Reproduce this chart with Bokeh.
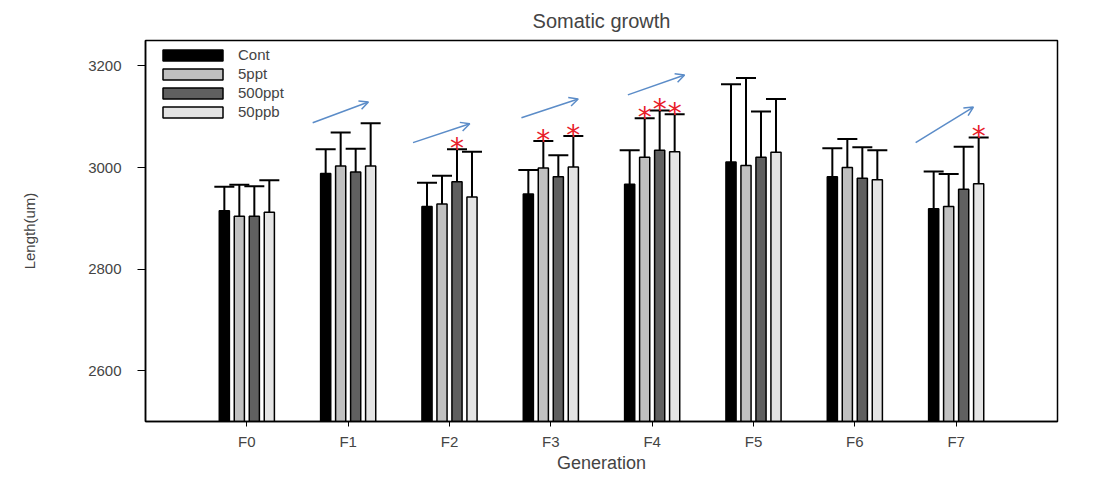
from bokeh.plotting import figure
from bokeh.models import (ColumnDataSource, Whisker, TeeHead, Legend, LegendItem,
                          FixedTicker, Arrow, OpenHead)
from bokeh.core.properties import value
from bokeh.embed import file_html
from bokeh.resources import INLINE

# ---- data ----
generations = ["F0", "F1", "F2", "F3", "F4", "F5", "F6", "F7"]
series = ["Cont", "5ppt", "500ppt", "50ppb"]
cont = [2915, 2988, 2923, 2948, 2967, 3011, 2982, 2919]
cont_err = [47, 48, 47, 47, 67, 153, 56, 73]
ppt5 = [2904, 3003, 2928, 2999, 3020, 3004, 3000, 2923]
ppt5_err = [62, 66, 56, 53, 77, 172, 56, 64]
ppt500 = [2904, 2991, 2972, 2982, 3034, 3020, 2979, 2957]
ppt500_err = [59, 46, 64, 42, 78, 90, 61, 84]
ppb50 = [2912, 3003, 2942, 3001, 3031, 3030, 2976, 2968]
ppb50_err = [63, 84, 89, 61, 74, 105, 58, 91]
# significance (generation indices) per series
sig = {"Cont": [], "5ppt": [3, 4], "500ppt": [2, 4], "50ppb": [3, 4, 7]}
# trend arrows (x0, y0, x1, y1) in data coordinates
arrows = [(0.65, 3088, 1.20, 3129), (1.64, 3049, 2.20, 3086),
          (2.71, 3098, 3.27, 3135), (3.76, 3143, 4.32, 3182),
          (6.60, 3049, 7.17, 3119)]

means = [cont, ppt5, ppt500, ppb50]
errs = [cont_err, ppt5_err, ppt500_err, ppb50_err]
colors = ["#000000", "#c0c0c0", "#606060", "#e4e4e4"]
offsets = [-0.222, -0.074, 0.074, 0.222]
FONT = "Liberation Sans"

p = figure(width=1111, height=478, x_range=(-1, 8), y_range=(2500, 3250),
           output_backend="svg", toolbar_location=None,
           min_border_left=145, min_border_right=54,
           min_border_top=40, min_border_bottom=57)

p.title.text = "Somatic growth"
p.title.align = "center"
p.title.vertical_align = "top"
p.title.standoff = 14
p.title.text_font_size = "20px"
p.title.text_font_style = "normal"
p.title.text_font = FONT

p.xgrid.visible = False
p.ygrid.visible = False
p.outline_line_color = "black"
p.outline_line_width = 1.5

xs_base = list(range(len(generations)))
items = []
for name, m, e, c, off in zip(series, means, errs, colors, offsets):
    xs = [x + off for x in xs_base]
    src = ColumnDataSource(dict(x=xs, top=m, upper=[a + b for a, b in zip(m, e)]))
    r = p.vbar(x="x", top="top", bottom=2500, width=0.1, source=src,
               fill_color=c, line_color="black", line_width=1.5)
    items.append(LegendItem(label=name, renderers=[r]))
    w = Whisker(base="x", lower="top", upper="upper", source=src,
                line_color="black", line_width=2,
                upper_head=TeeHead(size=20, line_color="black", line_width=2),
                lower_head=None)
    p.add_layout(w)
    idx = sig[name]
    if idx:
        ssrc = ColumnDataSource(dict(x=[xs[i] for i in idx],
                                     y=[m[i] + e[i] for i in idx],
                                     t=["*"] * len(idx)))
        p.text(x="x", y="y", text="t", source=ssrc, text_color="#e8202a",
               text_font=value("DejaVu Sans"), text_font_size="28px",
               text_align="center", text_baseline="middle", y_offset=-1)

for x0, y0, x1, y1 in arrows:
    p.add_layout(Arrow(x_start=x0, y_start=y0, x_end=x1, y_end=y1,
                       line_color="#5b8cc8", line_width=1.5,
                       end=OpenHead(size=9, line_color="#5b8cc8", line_width=1.5)))

legend = Legend(items=items, location=(10, 301), glyph_width=75, glyph_height=14,
                label_height=16, spacing=2, padding=0, margin=0,
                label_standoff=8, label_text_font_size="15px",
                label_text_font=FONT, border_line_color=None,
                background_fill_alpha=0)
p.add_layout(legend)

p.yaxis.ticker = FixedTicker(ticks=[2600, 2800, 3000, 3200])
p.yaxis.minor_tick_line_color = None
p.yaxis.major_tick_out = 8
p.yaxis.major_tick_in = 0
p.yaxis.axis_line_width = 1.5
p.yaxis.major_label_text_font_size = "15px"
p.yaxis.major_label_text_font = FONT
p.yaxis.major_label_standoff = 16
p.yaxis.axis_label = "Length(um)"
p.yaxis.axis_label_text_font = FONT
p.yaxis.axis_label_text_font_size = "15px"
p.yaxis.axis_label_text_font_style = "normal"
p.yaxis.axis_label_standoff = 47

p.xaxis.ticker = FixedTicker(ticks=xs_base)
p.xaxis.major_label_overrides = {i: g for i, g in enumerate(generations)}
p.xaxis.minor_tick_line_color = None
p.xaxis.major_tick_out = 5
p.xaxis.major_tick_in = 0
p.xaxis.axis_line_width = 1.5
p.xaxis.major_label_text_font_size = "15px"
p.xaxis.major_label_text_font = FONT
p.xaxis.major_label_standoff = 6
p.xaxis.axis_label = "Generation"
p.xaxis.axis_label_text_font = FONT
p.xaxis.axis_label_text_font_size = "18px"
p.xaxis.axis_label_text_font_style = "normal"
p.xaxis.axis_label_standoff = 0

open("out.html", "w").write(file_html(p, INLINE))
